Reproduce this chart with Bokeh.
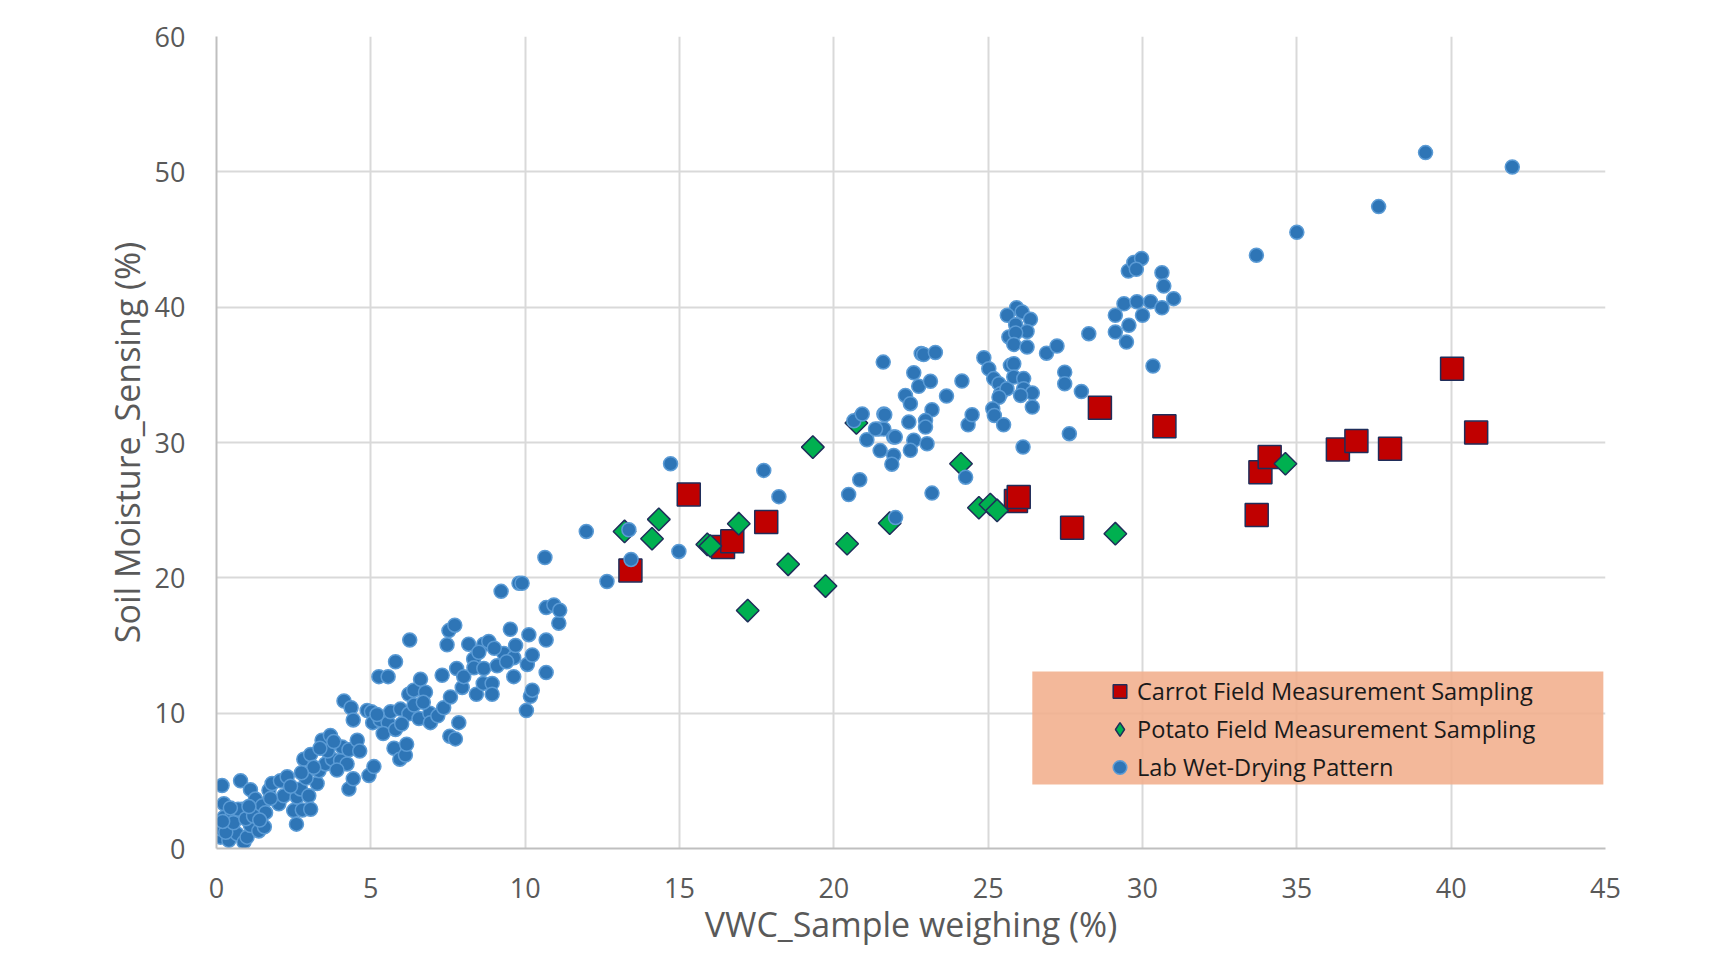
import numpy as np
from bokeh.plotting import figure
from bokeh.models import Range1d, FixedTicker, Legend, LegendItem, BoxAnnotation
from bokeh.embed import file_html
from bokeh.resources import INLINE

# ---- data ----
lab_x = [0.13,0.13,0.18,0.24,0.24,0.40,0.51,0.67,0.78,0.83,0.89,0.99,1.10,1.10,1.26,1.37,1.48,1.59,0.3,0.55,0.7,0.95,1.2,1.55,1.7,1.8,2.02,2.07,2.18,2.29,0.2,0.45,1.05,1.4,1.75,
         2.5,2.59,2.61,2.72,2.78,2.83,2.99,3.05,3.05,3.26,3.32,3.42,3.53,3.69,3.75,4.02,4.07,4.13,4.23,4.29,4.29,4.36,4.43,4.43,4.56,4.64,4.88,4.94,2.9,3.15,3.6,3.9,2.4,2.75,3.35,3.8,
         5.02,5.06,5.1,5.26,5.3,5.56,5.56,5.64,5.75,5.8,5.94,5.96,6.12,6.16,6.23,6.23,6.26,6.39,6.56,6.61,6.77,6.91,6.93,7.17,7.31,7.36,7.47,7.53,7.56,7.58,7.72,7.74,7.78,7.85,7.96,5.4,5.8,6.0,6.4,6.7,5.2,
         8.01,8.17,8.33,8.34,8.42,8.64,8.66,8.66,8.82,8.93,8.93,9.09,9.22,9.31,9.52,9.63,9.63,9.69,9.8,9.9,10.04,10.07,10.12,10.17,10.23,10.23,10.64,10.68,10.68,10.68,10.93,11.09,11.12,8.5,9.0,9.4,
         11.98,12.65,13.36,13.43,14.71,14.98,17.73,18.22,
         20.48,20.84,20.65,20.92,21.07,21.46,21.62,21.62,21.5,21.94,21.94,21.88,22.0,21.6,21.65,21.35,21.99,22.59,22.48,23.02,23.18,24.27,
         22.32,22.48,22.59,22.75,22.83,22.91,23.29,23.13,23.18,22.97,22.97,22.43,23.65,24.15,24.35,24.48,
         24.86,25.02,25.18,25.35,25.4,25.61,25.72,25.83,25.83,26.15,26.15,26.43,26.05,25.35,25.15,25.2,25.5,26.43,26.13,25.92,25.62,26.1,26.37,25.89,26.26,25.67,25.89,25.83,26.26,26.89,27.23,27.48,27.48,28.02,27.63,28.26,
         29.4,29.82,30.26,30.63,29.12,29.56,30.0,29.12,29.48,30.34,29.54,29.72,29.97,29.8,30.63,30.69,31.01,
         33.69,35.0,37.65,39.17,41.98]
lab_y = [0.84,1.45,4.65,3.3,2.3,0.6,2.44,1.08,5.0,2.9,0.47,0.84,1.7,4.35,3.65,1.3,3.15,2.65,1.2,1.9,2.9,2.2,2.4,1.6,4.3,4.8,3.3,5.0,3.9,5.3,2.0,3.0,3.1,2.1,3.7,
         2.8,1.8,3.8,4.4,2.85,6.6,3.9,6.95,2.9,4.8,5.75,8.0,6.25,8.35,6.6,6.5,7.5,10.9,6.25,7.3,4.4,10.4,9.5,5.15,8.0,7.2,10.2,5.4,5.2,6.0,7.2,5.8,4.6,5.6,7.4,7.9,
         10.1,9.3,6.05,12.7,9.5,12.7,9.3,10.1,7.4,13.8,6.6,10.3,6.9,7.7,9.95,11.4,15.4,11.7,9.6,12.5,11.55,10.0,9.3,9.8,12.8,10.4,15.05,16.1,8.3,11.2,16.5,8.1,13.3,9.3,11.9,8.5,8.8,9.2,10.6,10.8,9.9,
         12.7,15.1,14.0,13.35,11.4,12.2,13.3,15.1,15.3,12.2,11.4,13.5,19.0,14.4,16.2,14.1,12.7,15.0,19.6,19.6,10.2,13.6,15.8,11.25,11.7,14.3,21.5,15.4,17.8,13.0,18.0,16.65,17.6,14.5,14.8,13.8,
         23.43,19.73,23.55,21.36,28.43,21.95,27.94,26.0,
         26.16,27.25,31.6,32.1,30.2,31.0,31.0,32.1,29.4,30.4,29.05,28.4,24.45,35.94,32.05,31.0,30.4,30.16,29.42,29.91,26.26,27.44,
         33.48,32.87,35.15,34.15,36.58,36.5,36.65,34.52,32.42,31.63,31.14,31.51,33.43,34.54,31.31,32.05,
         36.26,35.45,34.72,34.35,33.6,33.97,35.7,35.82,34.84,34.72,33.97,33.65,33.48,33.35,32.49,32.0,31.31,32.62,29.66,39.96,39.4,39.65,39.1,38.7,38.2,37.8,38.1,37.25,37.05,36.6,37.13,35.2,34.34,33.77,30.65,38.04,
         40.25,40.4,40.4,39.96,39.4,38.66,39.4,38.16,37.42,35.65,42.67,43.3,43.6,42.8,42.55,41.56,40.63,
         43.83,45.53,47.43,51.42,50.36]

carrot_x = [13.41,15.30,16.41,16.71,17.81,25.9,25.99,27.72,28.62,30.71,33.7,33.82,34.12,36.33,36.93,38.02,40.03,40.81]
carrot_y = [20.55,26.16,22.27,22.7,24.12,25.67,25.97,23.7,32.57,31.2,24.65,27.81,28.92,29.48,30.11,29.54,35.45,30.73]

potato_x = [13.22,14.11,14.33,15.9,16.0,16.92,17.21,18.52,19.32,19.73,20.43,20.73,21.81,24.12,24.7,25.07,25.29,29.12,34.63]
potato_y = [23.43,22.89,24.32,22.47,22.35,24.0,17.58,21.0,29.66,19.39,22.52,31.44,24.04,28.43,25.18,25.42,24.98,23.26,28.43]

x_ticks = [0, 5, 10, 15, 20, 25, 30, 35, 40, 45]
y_ticks = [0, 10, 20, 30, 40, 50, 60]

FONT = "Open Sans"
GREY = "#595959"
GRID = "#D9D9D9"

p = figure(width=1700, height=954, output_backend="svg", toolbar_location=None,
           x_range=Range1d(0, 45), y_range=Range1d(0, 60),
           min_border_left=216, min_border_right=95, min_border_top=36, min_border_bottom=106)
p.outline_line_color = None
p.background_fill_color = "white"
p.border_fill_color = "white"

for ax, ticks in ((p.xaxis[0], x_ticks), (p.yaxis[0], y_ticks)):
    ax.ticker = FixedTicker(ticks=ticks)
    ax.axis_line_color = "#BFBFBF"
    ax.axis_line_width = 2
    ax.major_tick_line_color = None
    ax.minor_tick_line_color = None
    ax.major_label_text_font = FONT
    ax.major_label_text_font_size = "27px"
    ax.major_label_text_color = GREY
    ax.axis_label_text_font = FONT
    ax.axis_label_text_font_size = "34px"
    ax.axis_label_text_font_style = "normal"
    ax.axis_label_text_color = GREY

p.xaxis.axis_label = "VWC_Sample weighing (%)"
p.yaxis.axis_label = "Soil Moisture_Sensing (%)"
p.xaxis.major_label_standoff = 23
p.xaxis.axis_label_standoff = 0
p.yaxis.major_label_standoff = 25
p.yaxis.axis_label_standoff = 2

p.xgrid.ticker = FixedTicker(ticks=x_ticks)
p.ygrid.ticker = FixedTicker(ticks=y_ticks)
p.grid.grid_line_color = GRID
p.grid.grid_line_width = 2

r_carrot = p.scatter(carrot_x, carrot_y, marker="square", size=23,
                     fill_color="#C00000", line_color="#1F2D5A", line_width=1.5)
# hidden narrow diamonds (fully covered by the rotated squares) used for the legend glyph
r_potato_leg = p.scatter(potato_x, potato_y, marker="diamond", size=10,
                         fill_color="#00B050", line_color="#1F2D5A", line_width=1.5)
r_potato = p.scatter(potato_x, potato_y, marker="square", angle=np.pi / 4, size=16,
                     fill_color="#00B050", line_color="#1F2D5A", line_width=1.5)
r_lab = p.scatter(lab_x, lab_y, marker="circle", size=14,
                  fill_color="#2E75B6", line_color="#5B9BD5", line_width=1.5)

box = BoxAnnotation(left=26.43, right=44.93, bottom=4.73, top=13.08,
                    fill_color="#F1AE8C", fill_alpha=0.88, line_color=None)
p.add_layout(box)

legend = Legend(items=[
    LegendItem(label="Carrot Field Measurement Sampling", renderers=[r_carrot]),
    LegendItem(label="Potato Field Measurement Sampling", renderers=[r_potato_leg]),
    LegendItem(label="Lab Wet-Drying Pattern", renderers=[r_lab]),
], location=(886, 64))
legend.background_fill_alpha = 0
legend.border_line_alpha = 0
legend.padding = 0
legend.margin = 0
legend.spacing = 4
legend.glyph_width = 35
legend.glyph_height = 34
legend.label_height = 34
legend.label_standoff = 0
legend.label_text_font = FONT
legend.label_text_font_size = "23.6px"
legend.label_text_color = "#1a1a1a"
p.add_layout(legend)

open("out.html", "w").write(file_html(p, INLINE))
